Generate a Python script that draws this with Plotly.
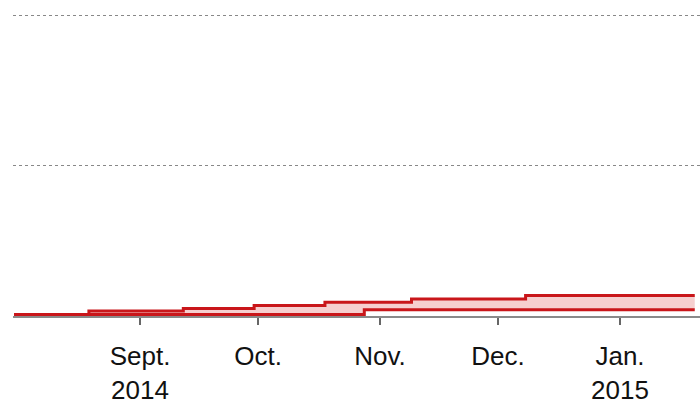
import plotly.graph_objects as go

dates = ["2014-07-31", "2014-08-19", "2014-09-12", "2014-09-30", "2014-10-18",
         "2014-10-28", "2014-11-09", "2014-12-08", "2015-01-20"]
upper = [0, 2.3, 4, 6, 8.2, 8.2, 10.3, 12.7, 12.7]
lower = [0, 0, 0, 0, 0, 3.2, 3.2, 3.2, 3.2]

tick_vals = ["2014-09-01", "2014-10-01", "2014-11-01", "2014-12-01", "2015-01-01"]
tick_text = ["Sept.<br>2014", "Oct.", "Nov.", "Dec.", "Jan.<br>2015"]
grid_vals = [100, 200]

RED = "#c9161a"
PINK = "rgba(238,160,160,0.5)"

fig = go.Figure()
fig.add_trace(go.Scatter(x=dates, y=lower, mode="lines", line=dict(color=RED, width=3, shape="hv"),
                         hoverinfo="skip", showlegend=False))
fig.add_trace(go.Scatter(x=dates, y=upper, mode="lines", line=dict(color=RED, width=3, shape="hv"),
                         fill="tonexty", fillcolor=PINK, hoverinfo="skip", showlegend=False))

fig.update_layout(
    width=700, height=407,
    margin=dict(l=13, r=0, t=0, b=91),
    paper_bgcolor="white", plot_bgcolor="white",
    font=dict(family="Liberation Sans, Arial, sans-serif", size=26, color="#111"),
    xaxis=dict(
        type="date", range=["2014-07-30 17:00", "2015-01-21 08:00"],
        tickvals=tick_vals, ticktext=tick_text,
        showgrid=False, showline=True, linecolor="#8a8a8a", linewidth=2,
        ticks="outside", ticklen=7, tickwidth=2, tickcolor="#666",
        ticklabelstandoff=9,
        zeroline=False, fixedrange=True,
    ),
    yaxis=dict(
        range=[-1.0, 210.4], tickvals=grid_vals, showticklabels=False,
        showgrid=True, gridcolor="#888", gridwidth=1, griddash="dot",
        zeroline=False, showline=False, ticks="", fixedrange=True,
    ),
)

fig.write_html("out.html", config={"displayModeBar": False},
               post_script="document.body.style.margin='0';")
